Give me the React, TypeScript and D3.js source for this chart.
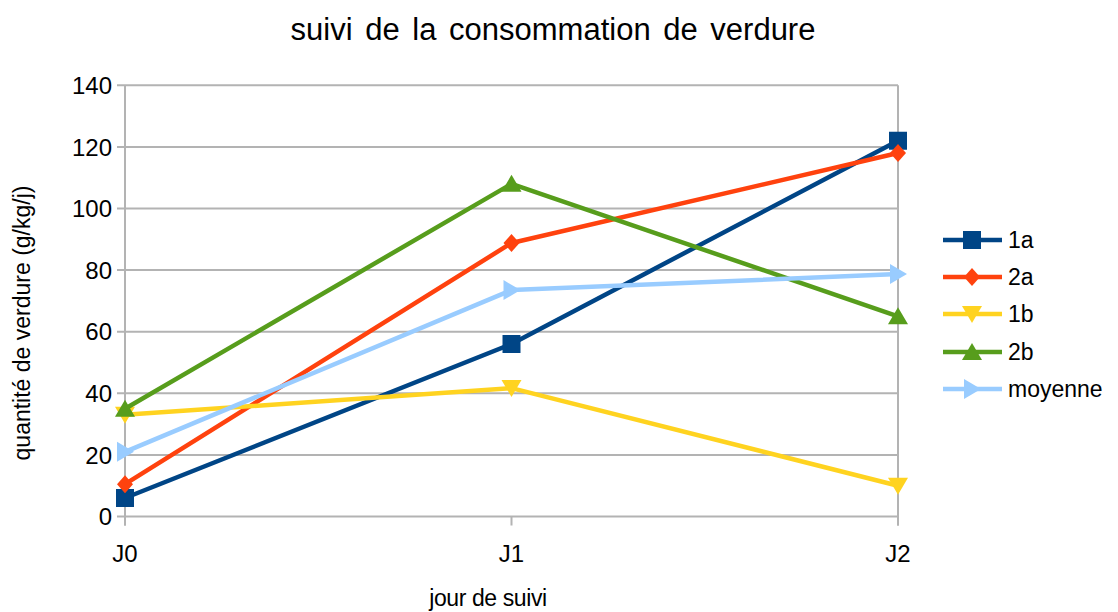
import React from "react";
import * as d3 from "d3";

const categories = ["J0", "J1", "J2"];
const seriesNames = ["1a", "2a", "1b", "2b", "moyenne"];
const s1a = [6, 56, 122];
const s2a = [10.5, 88.8, 118];
const s1b = [33, 41.7, 10];
const s2b = [35, 108, 65];
const sMoy = [21, 73.5, 78.7];
const yTicks = [0, 20, 40, 60, 80, 100, 120, 140];
const colors = ["#004586", "#ff420e", "#ffd320", "#579d1c", "#99ccff"];
const shapes = ["square", "diamond", "down", "up", "right"];

const W = 1118, H = 612;
const left = 125, right = 898, top = 85.3, bottom = 516.5;
const FONT = "'Liberation Sans', Arial, sans-serif";

function Marker({ shape, x, y, color }: { shape: string; x: number; y: number; color: string }) {
  const s = 9;
  let d = "";
  if (shape === "square") d = `M${x - s},${y - s}h${2 * s}v${2 * s}h${-2 * s}Z`;
  else if (shape === "diamond") d = `M${x},${y - 9}L${x + 8},${y}L${x},${y + 9}L${x - 8},${y}Z`;
  else if (shape === "down") d = `M${x - 10},${y - 8}L${x + 10},${y - 8}L${x},${y + 9}Z`;
  else if (shape === "up") d = `M${x - 10},${y + 8}L${x + 10},${y + 8}L${x},${y - 9}Z`;
  else d = `M${x - 8},${y - 10}L${x - 8},${y + 10}L${x + 9},${y}Z`;
  return <path d={d} fill={color} />;
}

export default function App() {
  const x = d3.scalePoint<string>().domain(categories).range([left, right]);
  const y = d3.scaleLinear().domain([0, 140]).range([bottom, top]);
  const data = [s1a, s2a, s1b, s2b, sMoy];
  const line = d3
    .line<number>()
    .x((_, i) => x(categories[i]) as number)
    .y((v) => y(v));
  const legendY = [240, 277, 314, 352, 389];
  return (
    <svg width={W} height={H} style={{ position: "absolute", left: 0, top: 0, background: "#fff" }} fontFamily={FONT}>
      <rect width={W} height={H} fill="#fff" />
      <text x={553} y={40} textAnchor="middle" fontSize={31} fill="#000" wordSpacing={4}>
        suivi de la consommation de verdure
      </text>
      {yTicks.map((t) => (
        <g key={t}>
          <line x1={left - 8} x2={right} y1={y(t)} y2={y(t)} stroke="#b3b3b3" strokeWidth={2} />
          <text x={112} y={y(t)} dy="0.36em" textAnchor="end" fontSize={24} fill="#000">
            {t}
          </text>
        </g>
      ))}
      <line x1={left} x2={left} y1={top} y2={bottom + 9} stroke="#b3b3b3" strokeWidth={2} />
      <line x1={right} x2={right} y1={top} y2={bottom + 9} stroke="#b3b3b3" strokeWidth={2} />
      {categories.map((c) => (
        <g key={c}>
          <line x1={x(c)} x2={x(c)} y1={bottom} y2={bottom + 9} stroke="#b3b3b3" strokeWidth={2} />
          <text x={x(c)} y={562} textAnchor="middle" fontSize={24} fill="#000">
            {c}
          </text>
        </g>
      ))}
      <text x={488} y={606} textAnchor="middle" fontSize={23} fill="#000" letterSpacing={-0.4}>
        jour de suivi
      </text>
      <text
        transform={`translate(30,323) rotate(-90)`}
        textAnchor="middle"
        fontSize={23}
        fill="#000"
      >
        quantité de verdure (g/kg/j)
      </text>
      {data.map((vals, i) => (
        <g key={seriesNames[i]}>
          <path d={line(vals) || ""} fill="none" stroke={colors[i]} strokeWidth={4.5} strokeLinejoin="round" />
          {vals.map((v, j) => (
            <Marker key={j} shape={shapes[i]} x={x(categories[j]) as number} y={y(v)} color={colors[i]} />
          ))}
        </g>
      ))}
      {seriesNames.map((n, i) => (
        <g key={n}>
          <line x1={943} x2={1002} y1={legendY[i]} y2={legendY[i]} stroke={colors[i]} strokeWidth={4.5} />
          <Marker shape={shapes[i]} x={972} y={legendY[i]} color={colors[i]} />
          <text x={1008} y={legendY[i]} dy="0.36em" fontSize={23} fill="#000">
            {n}
          </text>
        </g>
      ))}
    </svg>
  );
}
